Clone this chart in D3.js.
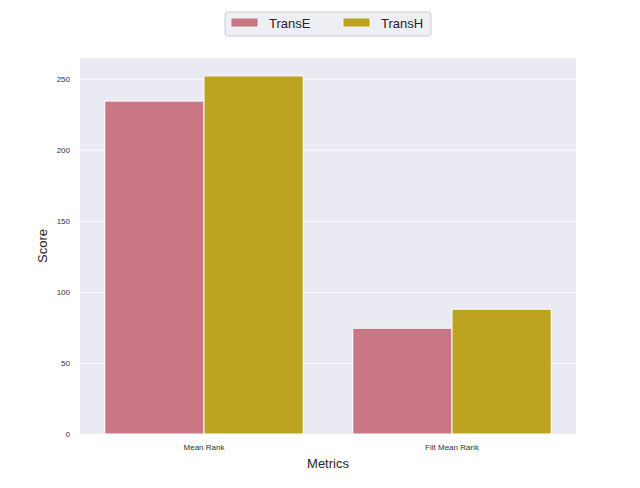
<!DOCTYPE html>
<html>
<head>
<meta charset="utf-8">
<script src="https://cdn.jsdelivr.net/npm/d3@7"></script>
<style>
  body { margin: 0; background: #fff; }
  svg { display: block; font-family: "Liberation Sans", Arial, sans-serif; }
</style>
</head>
<body>
<svg id="chart" width="640" height="488"></svg>
<script>
// Data
const metrics = ["Mean Rank", "Filt Mean Rank"];
const models = ["TransE", "TransH"];
const transE = [234.2, 74.4];
const transH = [251.9, 87.8];
const yTicks = [0, 50, 100, 150, 200, 250];
const colors = ["#c87684", "#bca322"];

// Plot area
const margin = { top: 58, right: 64, bottom: 54, left: 80 },
      width = 640 - margin.left - margin.right,
      height = 488 - margin.top - margin.bottom;

const svg = d3.select("#chart");
const g = svg.append("g").attr("transform", `translate(${margin.left},${margin.top})`);

// background
g.append("rect").attr("width", width).attr("height", height).attr("fill", "#eaeaf2");

// Scales
const x = d3.scaleBand().domain(metrics).range([0, width]).paddingInner(0.2).paddingOuter(0.1);
const xSub = d3.scaleBand().domain(models).range([0, x.bandwidth()]);
const y = d3.scaleLinear().domain([0, d3.max(transH) * 1.05]).range([height, 0]);

// Grid lines
g.append("g")
  .call(d3.axisLeft(y).tickValues(yTicks).tickSize(-width).tickFormat(""))
  .call(a => a.select(".domain").remove())
  .call(a => a.selectAll("line").attr("stroke", "#fff").attr("stroke-width", 1));

// Bars
const series = [transE, transH];
models.forEach((m, i) => {
  g.selectAll(".bar-" + m)
    .data(metrics.map((c, j) => ({ c, v: series[i][j] })))
    .enter().append("rect")
    .attr("x", d => x(d.c) + xSub(m))
    .attr("y", d => y(d.v))
    .attr("width", xSub.bandwidth())
    .attr("height", d => height - y(d.v))
    .attr("fill", colors[i])
    .attr("stroke", "#fff")
    .attr("stroke-width", 1);
});

// Y axis labels
const yAxis = g.append("g")
  .call(d3.axisLeft(y).tickValues(yTicks).tickSize(0).tickPadding(10))
  .call(a => a.select(".domain").remove());
yAxis.attr("color", "#333");
yAxis.selectAll("text").attr("font-size", 8)
  .attr("font-family", "Liberation Sans, Arial, sans-serif");

// X axis labels
const xAxis = g.append("g").attr("transform", `translate(0,${height})`)
  .call(d3.axisBottom(x).tickSize(0).tickPadding(10))
  .call(a => a.select(".domain").remove());
xAxis.attr("color", "#333");
xAxis.selectAll("text").attr("font-size", 8)
  .attr("font-family", "Liberation Sans, Arial, sans-serif");

// Axis titles
svg.append("text")
  .attr("x", margin.left + width / 2).attr("y", 468)
  .attr("text-anchor", "middle").attr("font-size", 13).attr("fill", "#262626")
  .text("Metrics");
svg.append("text")
  .attr("transform", `translate(47,${margin.top + height / 2}) rotate(-90)`)
  .attr("text-anchor", "middle").attr("font-size", 13).attr("fill", "#262626")
  .text("Score");

// Legend
const legend = svg.append("g").attr("transform", "translate(225,12)");
legend.append("rect").attr("width", 206).attr("height", 24).attr("rx", 3)
  .attr("fill", "#eaeaf2").attr("fill-opacity", 0.8)
  .attr("stroke", "#cccccc").attr("stroke-width", 1);
const lx = [6, 118];
models.forEach((m, i) => {
  legend.append("rect").attr("x", lx[i]).attr("y", 6).attr("width", 27).attr("height", 9)
    .attr("fill", colors[i]).attr("stroke", "#fff").attr("stroke-width", 0.8);
  legend.append("text").attr("x", lx[i] + 38).attr("y", 16)
    .attr("font-size", 13).attr("fill", "#262626").text(m);
});
</script>
</body>
</html>
